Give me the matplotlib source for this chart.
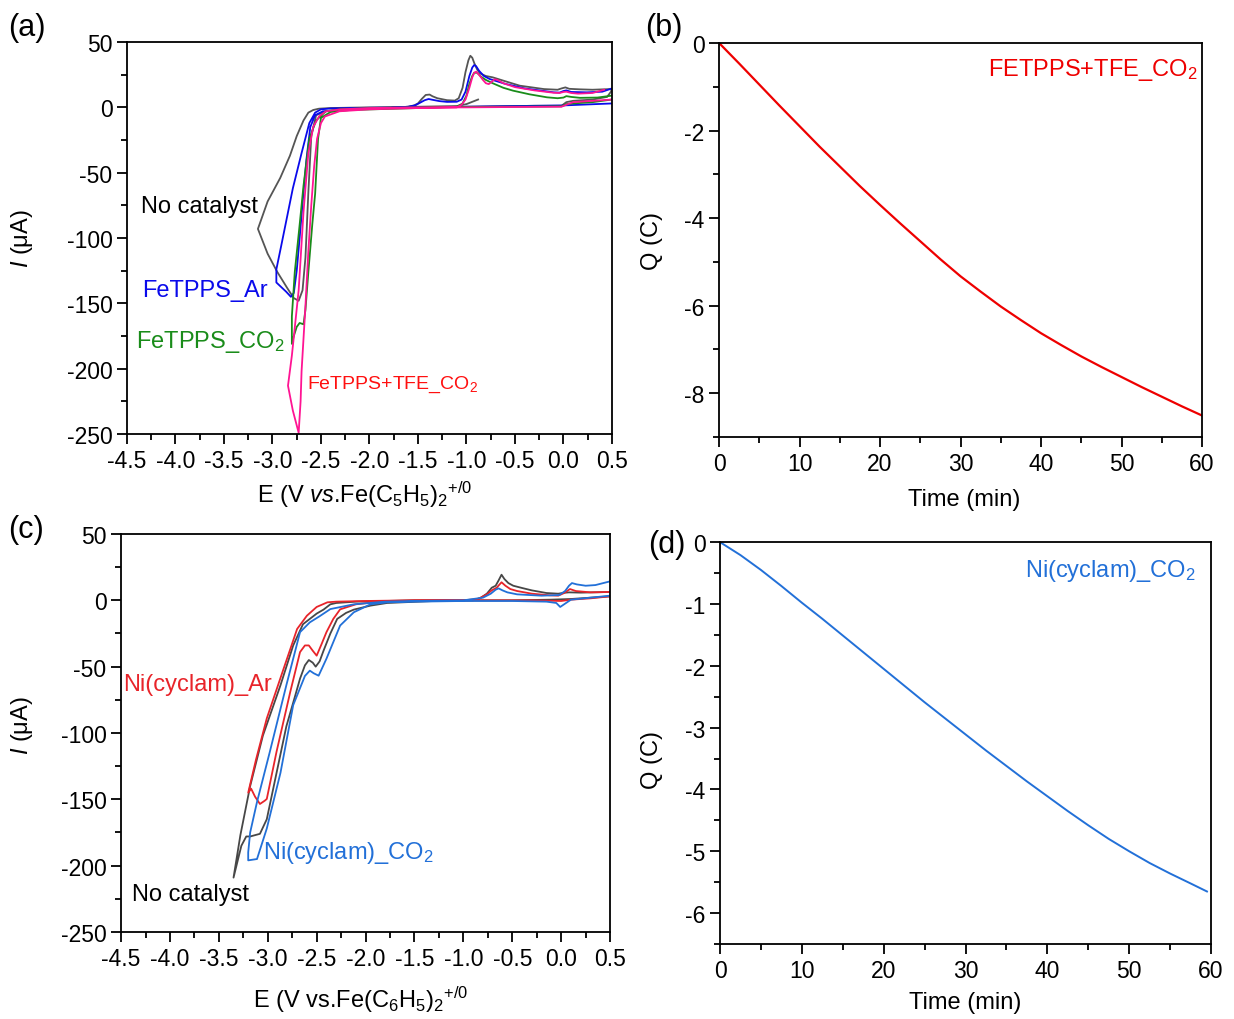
import numpy as np
import matplotlib
matplotlib.use('Agg')
import matplotlib.pyplot as plt
from matplotlib.ticker import MultipleLocator, FuncFormatter

plt.rcParams['font.family'] = ['Liberation Sans', 'DejaVu Sans']
plt.rcParams['mathtext.fontset'] = 'custom'
plt.rcParams['mathtext.rm'] = 'Liberation Sans'
plt.rcParams['mathtext.it'] = 'Liberation Sans:italic'
plt.rcParams['axes.unicode_minus'] = False
plt.rcParams['font.size'] = 16

# ---- panel (a): FeTPPS CVs (E in V, I in uA) ----
a_nocat_E = [-0.88, -1.0, -1.1, -1.5, -2.0, -2.4, -2.52, -2.58, -2.63, -2.68, -2.75, -2.82, -2.92, -3.05, -3.15,
             -3.05, -2.95, -2.85, -2.78, -2.73, -2.69, -2.66, -2.63, -2.60, -2.55, -2.45, -2.2, -1.8, -1.6, -1.54,
             -1.5, -1.46, -1.42, -1.38, -1.35, -1.3, -1.2, -1.12, -1.08, -1.04, -1.01, -0.98, -0.96, -0.94, -0.92,
             -0.89, -0.86, -0.8, -0.73, -0.6, -0.45, -0.2, -0.06, -0.02, 0.02, 0.06, 0.17, 0.3, 0.48, 0.5,
             0.45, 0.3, 0.1, 0.03, -0.02, -0.3, -0.7, -1.0]
a_nocat_I = [6, 2.5, 1, 0.5, 0, -0.5, -1, -2, -4, -10, -22, -37, -54, -72, -93,
             -112, -126, -138, -146, -148, -140, -115, -65, -22, -6, -3, -1.5, -0.5, 0.5, 1.5,
             3, 6.5, 9.5, 9.8, 8.5, 7, 5.5, 5.2, 7, 15, 27, 36, 39.5, 38, 34,
             29, 26, 24, 23, 20, 16.6, 14, 13.5, 14.5, 15.3, 14.2, 13.8, 13.5, 14, 13,
             8, 6, 5, 4, 1.2, 1.2, 0.8, 0.5]

a_ar_E = [0.5, 0.0, -0.5, -1.0, -1.5, -2.0, -2.4, -2.5, -2.56, -2.62, -2.70, -2.79, -2.91, -2.96, -2.96, -2.86,
          -2.81, -2.78, -2.75, -2.72, -2.68, -2.65, -2.61, -2.56, -2.48, -2.2, -1.8, -1.6, -1.53, -1.48, -1.43,
          -1.39, -1.35, -1.28, -1.2, -1.1, -1.05, -1.01, -0.97, -0.94, -0.92, -0.90, -0.87, -0.82, -0.76, -0.6,
          -0.4, -0.1, -0.04, 0.0, 0.03, 0.08, 0.24, 0.4, 0.5]
a_ar_I = [3, 1.5, 1, 0.5, 0, -0.3, -0.8, -1.5, -4, -12, -35, -62, -106, -124, -134, -141,
          -145, -142, -125, -100, -65, -40, -15, -6, -3, -1.5, -0.5, 0.5, 1.5, 3.5, 5.5,
          6.4, 5.8, 4.8, 4.2, 4.3, 6, 12, 24, 30.5, 32.4, 31.5, 28, 24, 21.7, 18,
          14.5, 11.5, 11.3, 12.5, 13, 11.8, 11.5, 12, 14.5]

a_co2_E = [0.5, 0.3, 0.1, 0.03, -0.02, -0.5, -1.0, -1.5, -2.0, -2.3, -2.45, -2.55, -2.62, -2.68, -2.72, -2.77,
           -2.80, -2.80, -2.78, -2.75, -2.72, -2.68, -2.66, -2.63, -2.59, -2.56, -2.53, -2.50, -2.40, -2.2, -1.5,
           -1.1, -1.04, -1.0, -0.97, -0.94, -0.92, -0.89, -0.85, -0.8, -0.73, -0.62, -0.52, -0.35, -0.17, -0.06,
           0.0, 0.03, 0.08, 0.17, 0.35, 0.5]
a_co2_I = [6, 4, 3, 2.5, 0.8, 0.5, 0.3, 0, -0.5, -1.5, -3, -10, -24, -60, -90, -126,
           -160, -181, -175, -168, -165, -166, -155, -126, -90, -66, -24, -8, -3.5, -2, -0.5,
           0.5, 3, 9, 18, 24, 26.5, 26.5, 23.5, 21, 18.5, 15, 12.8, 10, 7.7, 7,
           7.5, 8.6, 8, 7.3, 7.5, 9]

a_tfe_E = [0.5, 0.1, 0.03, -0.02, -0.5, -1.0, -1.5, -2.0, -2.3, -2.45, -2.52, -2.58, -2.63, -2.68, -2.73, -2.80,
           -2.84, -2.79, -2.73, -2.71, -2.70, -2.66, -2.63, -2.60, -2.57, -2.54, -2.50, -2.46, -2.31, -2.0, -1.5,
           -1.1, -1.05, -1.01, -0.97, -0.94, -0.92, -0.90, -0.87, -0.83, -0.80, -0.77, -0.74, -0.71, -0.68,
           -0.62, -0.5, -0.3, -0.1, -0.04, 0.0, 0.03, 0.08, 0.15, 0.3, 0.42]
a_tfe_I = [6, 4, 2, 0.5, 0.3, 0, 0, -0.5, -1.5, -3, -7, -15, -35, -80, -140, -190,
           -213, -232, -249, -225, -202, -152, -110, -75, -45, -24, -12, -7, -3, -1.5, -0.5,
           0, 2, 6, 15, 23, 26.5, 27.3, 25, 21, 18.5, 17.8, 19.5, 21.5, 21,
           18.5, 15.5, 13, 11.2, 11, 11.8, 12, 11, 10.5, 11, 13.5]

# ---- panel (c): Ni(cyclam) CVs ----
c_nocat_E = [0.5, 0.3, 0.1, -0.1, -0.5, -1.0, -1.5, -1.8, -2.1, -2.3, -2.36, -2.43, -2.50, -2.57, -2.64, -2.74,
             -2.87, -3.05, -3.18, -3.28, -3.35, -3.27, -3.22, -3.18, -3.08, -3.01, -2.91, -2.81, -2.72, -2.67,
             -2.62, -2.58, -2.54, -2.51, -2.47, -2.43, -2.36, -2.29, -2.2, -2.12, -1.95, -1.78, -1.3, -0.9, -0.82,
             -0.76, -0.71, -0.67, -0.64, -0.61, -0.58, -0.54, -0.49, -0.4, -0.3, -0.15, -0.03, 0.03, 0.08, 0.2,
             0.5]
c_nocat_I = [3, 2, 1, 0.5, 0, 0, 0, -0.5, -1, -2, -3, -7, -10, -14, -18, -34,
             -64, -102, -140, -177, -209, -185, -178, -178, -176, -165, -130, -95, -72, -59,
             -49, -45, -47, -50, -46, -38, -25, -14, -9.5, -7, -4, -2, -0.5, 0, 2,
             5, 9.5, 11, 15, 19.3, 16, 13, 11, 9.3, 7.5, 5.5, 5, 5.7, 6, 5.8,
             6.3]

c_ar_E = [0.5, 0.3, 0.1, 0.0, -0.3, -1.0, -1.5, -2.0, -2.3, -2.39, -2.5, -2.60, -2.70, -2.84, -3.01, -3.12,
          -3.20, -3.17, -3.13, -3.08, -3.03, -3.01, -2.91, -2.77, -2.67, -2.62, -2.58, -2.54, -2.50, -2.45, -2.40,
          -2.33, -2.26, -2.1, -1.8, -1.0, -0.85, -0.76, -0.71, -0.66, -0.61, -0.57, -0.52, -0.45, -0.3, -0.12,
          -0.03, 0.03, 0.09, 0.15, 0.3, 0.5]
c_ar_I = [3, 1.5, 0.5, -0.5, 0, 0, 0, -0.5, -1, -1.5, -5, -11.6, -21.6, -52, -89, -120,
          -145, -142, -148, -153.5, -151, -149.7, -114, -69, -39, -34, -34, -38, -41.7, -33, -24,
          -14, -6.8, -3, -0.5, 0, 1, 4.5, 7.5, 9.5, 13.6, 11, 8.5, 7, 5, 3.8,
          3.5, 5.5, 8.5, 7, 6, 6.3]

c_co2_E = [0.5, 0.3, 0.1, 0.05, -0.01, -0.05, -0.15, -0.5, -1.0, -1.5, -1.78, -1.95, -2.12, -2.26, -2.40, -2.48,
           -2.53, -2.57, -2.62, -2.74, -2.87, -3.01, -3.11, -3.20, -3.20, -3.18, -3.11, -2.98, -2.81, -2.67,
           -2.57, -2.47, -2.36, -2.12, -1.8, -1.5, -1.0, -0.8, -0.72, -0.67, -0.64, -0.6, -0.55, -0.45, -0.2,
           -0.02, 0.04, 0.08, 0.11, 0.16, 0.25, 0.35, 0.5]
c_co2_I = [3.5, 2, 0.5, -2, -5, -2, -1, -0.5, -0.5, -1, -1.5, -3, -9, -19, -44, -56.8,
           -55, -53, -57, -79, -130, -172, -195, -196, -190, -175, -152, -114.5, -64, -24,
           -16.6, -12, -6.6, -3, -1, -0.5, 0, 2, 5, 8, 9, 7.5, 6, 4.5, 3.5,
           4, 7, 11, 13, 12, 11, 11.5, 14.3]

# ---- panels (b), (d): charge vs time ----
b_time = [0, 2.5, 5, 7.5, 10, 12.5, 15, 17.5, 20, 22.5, 25, 27.5, 30, 32.5, 35, 37.5, 40, 42.5, 45, 47.5,
          50, 52.5, 55, 57.5, 60]
b_charge = [0, -0.47, -0.95, -1.43, -1.90, -2.37, -2.82, -3.27, -3.70, -4.12, -4.53, -4.94, -5.33, -5.68, -6.02,
            -6.33, -6.63, -6.90, -7.16, -7.40, -7.63, -7.86, -8.08, -8.30, -8.51]

d_time = [0, 2.5, 5, 7.5, 10, 12.5, 15, 17.5, 20, 22.5, 25, 27.5, 30, 32.5, 35, 37.5, 40, 42.5, 45, 47.5,
          50, 52.5, 55, 57.5, 59.5]
d_charge = [0, -0.21, -0.45, -0.71, -0.98, -1.24, -1.51, -1.78, -2.05, -2.32, -2.59, -2.85, -3.11, -3.37, -3.62,
            -3.87, -4.11, -4.35, -4.58, -4.80, -5.00, -5.19, -5.36, -5.52, -5.65]

fig = plt.figure(figsize=(12.34, 10.2), dpi=100)
ax_a = fig.add_axes([0.1029, 0.5735, 0.393, 0.3843])
ax_b = fig.add_axes([0.5827, 0.5706, 0.3914, 0.3863])
ax_c = fig.add_axes([0.0981, 0.0853, 0.3963, 0.3902])
ax_d = fig.add_axes([0.5835, 0.0735, 0.3979, 0.394])

fmt1 = FuncFormatter(lambda v, p: ('%.1f' % v).replace('-0.0', '0.0'))
fmt0 = FuncFormatter(lambda v, p: ('%d' % round(v)))


def style(ax, xmaj, xmin, ymaj, ymin, xfmt, yfmt):
    ax.xaxis.set_major_locator(MultipleLocator(xmaj))
    ax.xaxis.set_minor_locator(MultipleLocator(xmin))
    ax.yaxis.set_major_locator(MultipleLocator(ymaj))
    ax.yaxis.set_minor_locator(MultipleLocator(ymin))
    ax.xaxis.set_major_formatter(xfmt)
    ax.yaxis.set_major_formatter(yfmt)
    ax.tick_params(which='both', direction='out', top=False, right=False, width=1.3, labelsize=16.5)
    ax.tick_params(which='major', length=7)
    ax.tick_params(which='minor', length=4)
    for s in ax.spines.values():
        s.set_linewidth(1.3)


# (a)
ax_a.plot(a_nocat_E, a_nocat_I, color='#555555', lw=1.3)
ax_a.plot(a_ar_E, a_ar_I, color='#0a0aeb', lw=1.3)
ax_a.plot(a_co2_E, a_co2_I, color='#1a8c1a', lw=1.3)
ax_a.plot(a_tfe_E, a_tfe_I, color='#ff1493', lw=1.3)
ax_a.set_xlim(-4.5, 0.5)
ax_a.set_ylim(-250, 50)
style(ax_a, 0.5, 0.25, 50, 25, fmt1, fmt0)
ax_a.text(-4.356, -75.5, 'No catalyst', color='black', fontsize=17, va='center')
ax_a.text(-4.345, -139.7, 'FeTPPS_Ar', color='#0a0aeb', fontsize=17, va='center')
ax_a.text(-4.41, -178.8, 'FeTPPS_CO$_2$', color='#1a8c1a', fontsize=17, va='center')
ax_a.text(-2.64, -211.7, 'FeTPPS+TFE_CO$_2$', color='#ff1010', fontsize=14, va='center')
ax_a.set_ylabel(r'$\it{I}$ (μA)', fontsize=17)
ax_a.yaxis.set_label_coords(-0.19, 0.5)
ax_a.set_xlabel(r'E (V $\it{vs}$.Fe(C$_5$H$_5$)$_2$$^{+/0}$', fontsize=17)
ax_a.xaxis.set_label_coords(0.49, -0.115)

# (b)
ax_b.plot(b_time, b_charge, color='#ee0000', lw=1.6)
ax_b.set_xlim(0, 60)
ax_b.set_ylim(-9, 0)
style(ax_b, 10, 5, 2, 1, fmt0, fmt0)
ax_b.text(0.99, 0.934, 'FETPPS+TFE_CO$_2$', color='#ee0000', fontsize=17, ha='right', va='center',
          transform=ax_b.transAxes)
ax_b.set_ylabel('Q (C)', fontsize=17)
ax_b.yaxis.set_label_coords(-0.116, 0.5)
ax_b.set_xlabel('Time (min)', fontsize=17)
ax_b.xaxis.set_label_coords(0.507, -0.13)

# (c)
ax_c.plot(c_nocat_E, c_nocat_I, color='#474747', lw=1.3)
ax_c.plot(c_ar_E, c_ar_I, color='#e8242a', lw=1.3)
ax_c.plot(c_co2_E, c_co2_I, color='#2270d8', lw=1.3)
ax_c.set_xlim(-4.5, 0.5)
ax_c.set_ylim(-250, 50)
style(ax_c, 0.5, 0.25, 50, 25, fmt1, fmt0)
ax_c.text(-4.48, -63, 'Ni(cyclam)_Ar', color='#e8242a', fontsize=17, va='center')
ax_c.text(-3.05, -189.7, 'Ni(cyclam)_CO$_2$', color='#2270d8', fontsize=17, va='center')
ax_c.text(-4.39, -221, 'No catalyst', color='black', fontsize=17, va='center')
ax_c.set_ylabel(r'$\it{I}$ (μA)', fontsize=17)
ax_c.yaxis.set_label_coords(-0.176, 0.52)
ax_c.set_xlabel(r'E (V vs.Fe(C$_6$H$_5$)$_2$$^{+/0}$', fontsize=17)
ax_c.xaxis.set_label_coords(0.489, -0.13)

# (d)
ax_d.plot(d_time, d_charge, color='#2270d8', lw=1.4)
ax_d.set_xlim(0, 60)
ax_d.set_ylim(-6.5, 0)
style(ax_d, 10, 5, 1, 0.5, fmt0, fmt0)
ax_d.text(0.969, 0.93, 'Ni(cyclam)_CO$_2$', color='#2270d8', fontsize=17, ha='right', va='center',
          transform=ax_d.transAxes)
ax_d.set_ylabel('Q (C)', fontsize=17)
ax_d.yaxis.set_label_coords(-0.116, 0.46)
ax_d.set_xlabel('Time (min)', fontsize=17)
ax_d.xaxis.set_label_coords(0.5, -0.118)

for lab, x, y in [('(a)', 0.0065, 0.9725), ('(b)', 0.5227, 0.9725), ('(c)', 0.0065, 0.480), ('(d)', 0.525, 0.4657)]:
    fig.text(x, y, lab, fontsize=22, va='center', ha='left')

fig.savefig('out.png', dpi=100)
